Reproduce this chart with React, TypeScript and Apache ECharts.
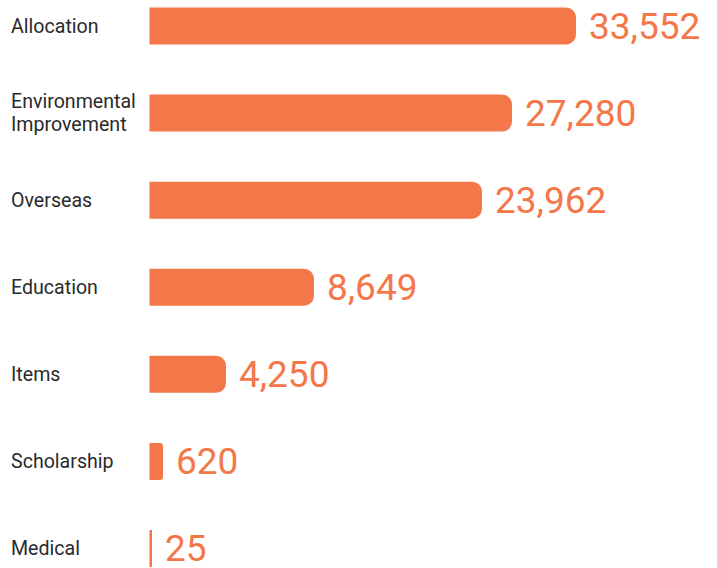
import React, { useEffect, useRef } from "react";
import * as echarts from "echarts";

const categories = [
  "Allocation",
  "Environmental\nImprovement",
  "Overseas",
  "Education",
  "Items",
  "Scholarship",
  "Medical",
];
// values printed next to the bars
const values = [33552, 27280, 23962, 8649, 4250, 620, 25];
// bar lengths as drawn in the picture (same unit scale as the largest value)
const barLengths = [33552, 28518, 26157, 12941, 6018, 1062, 197];

const ORANGE = "#F47749";

export default function App() {
  const ref = useRef<HTMLDivElement>(null);
  useEffect(() => {
    document.body.style.margin = "0";
    const chart = echarts.init(ref.current!, null, { renderer: "svg" });
    const maxVal = 40000;
    chart.setOption({
      animation: false,
      grid: { left: 149.5, right: 59, top: 26, bottom: 19.5, containLabel: false },
      xAxis: {
        type: "value",
        min: 0,
        max: maxVal,
        show: false,
      },
      yAxis: {
        type: "category",
        data: categories,
        inverse: true,
        boundaryGap: false,
        axisLine: { show: false },
        axisTick: { show: false },
        splitLine: { show: false },
        axisLabel: {
          align: "left",
          margin: 138.5,
          color: "#2a2a2a",
          fontFamily: "Roboto",
          fontSize: 19.6,
          lineHeight: 23,
        },
      },
      series: [
        {
          type: "bar",
          barWidth: 37,
          data: barLengths.map((v, i) => {
            const px = (v / maxVal) * 508.5;
            const r = px < 5 ? 0 : px < 20 ? 3 : 10;
            return {
              value: v,
              itemStyle: { borderRadius: [0, r, r, 0] },
              label: { formatter: values[i].toLocaleString("en-US") },
            };
          }),
          itemStyle: { color: ORANGE },
          label: {
            show: true,
            position: "right",
            distance: 13,
            color: ORANGE,
            fontFamily: "Roboto",
            fontSize: 37,
            lineHeight: 34,
          },
        },
      ],
    });
    return () => chart.dispose();
  }, []);
  return <div ref={ref} style={{ width: 717, height: 568 }} />;
}
